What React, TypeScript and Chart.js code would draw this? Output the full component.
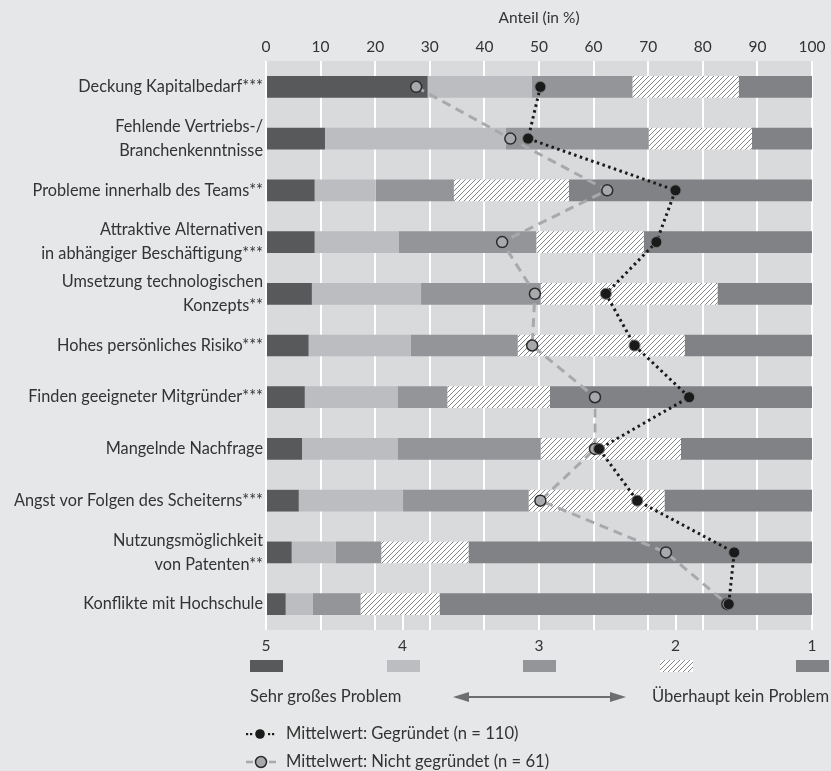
import { useEffect, useRef } from 'react';
import { Chart, registerables } from 'chart.js';

Chart.register(...registerables);

// Obstacles to founding a company (rows, top to bottom)
const categories: (string | string[])[] = [
  'Deckung Kapitalbedarf***',
  ['Fehlende Vertriebs-/', 'Branchenkenntnisse'],
  'Probleme innerhalb des Teams**',
  ['Attraktive Alternativen', 'in abhängiger Beschäftigung***'],
  ['Umsetzung technologischen', 'Konzepts**'],
  'Hohes persönliches Risiko***',
  'Finden geeigneter Mitgründer***',
  'Mangelnde Nachfrage',
  'Angst vor Folgen des Scheiterns***',
  ['Nutzungsmöglichkeit', 'von Patenten**'],
  'Konflikte mit Hochschule',
];

// Share of answers per rating (in %), 5 = very big problem ... 1 = no problem at all
const rating5 = [29.6, 10.8, 8.9, 8.9, 8.4, 7.8, 7.1, 6.6, 6.0, 4.7, 3.6];
const rating4 = [19.1, 33.1, 11.2, 15.4, 20.0, 18.7, 17.0, 17.5, 19.1, 8.1, 5.0];
const rating3 = [18.4, 26.2, 14.3, 25.2, 21.9, 19.6, 9.1, 26.2, 23.0, 8.3, 8.7];
const rating2 = [19.5, 18.9, 21.1, 19.7, 32.4, 30.6, 18.8, 25.7, 24.9, 16.0, 14.5];
const rating1 = [13.4, 11.0, 44.5, 30.8, 17.3, 23.3, 48.0, 24.0, 27.0, 62.9, 68.2];

// Mean ratings on the 5..1 scale
const meanFounded = [2.99, 3.08, 2.0, 2.14, 2.51, 2.3, 1.9, 2.56, 2.28, 1.57, 1.61];
const meanNotFounded = [3.9, 3.21, 2.5, 3.27, 3.03, 3.05, 2.59, 2.59, 2.99, 2.07, 1.62];

const percentTicksTitle = 'Anteil (in %)';
const ratingTicks = [5, 4, 3, 2, 1];
const leftCaption = 'Sehr großes Problem';
const rightCaption = 'Überhaupt kein Problem';
const legendFounded = 'Mittelwert: Gegründet (n = 110)';
const legendNotFounded = 'Mittelwert: Nicht gegründet (n = 61)';

const FONT = 'Lato, "Open Sans", sans-serif';
const TEXT = '#333333';
const C5 = '#58595b';
const C4 = '#bcbdc0';
const C3 = '#939598';
const C1 = '#808285';
const PAGE_BG = '#e6e7e8';
const PLOT_BG = '#d9dadb';

function makeHatch(): CanvasPattern | string {
  const s = 5;
  const c = document.createElement('canvas');
  c.width = s;
  c.height = s;
  const g = c.getContext('2d');
  if (!g) return '#ffffff';
  g.fillStyle = '#ffffff';
  g.fillRect(0, 0, s, s);
  g.strokeStyle = '#858688';
  g.lineWidth = 1;
  g.beginPath();
  g.moveTo(-1, s + 1);
  g.lineTo(s + 1, -1);
  g.moveTo(-1, 1);
  g.lineTo(1, -1);
  g.moveTo(s - 1, s + 1);
  g.lineTo(s + 1, s - 1);
  g.stroke();
  return g.createPattern(c, 'repeat') || '#ffffff';
}

export default function App() {
  const canvasRef = useRef<HTMLCanvasElement | null>(null);

  useEffect(() => {
    document.body.style.margin = '0';
    const canvas = canvasRef.current;
    if (!canvas) return;
    const hatch = makeHatch();
    const swatchFills = [C5, C4, C3, hatch, C1];

    const backgroundPlugin = {
      id: 'panelBackground',
      beforeDraw(chart: any) {
        const { ctx, chartArea } = chart;
        ctx.save();
        ctx.fillStyle = PAGE_BG;
        ctx.fillRect(0, 0, chart.width, chart.height);
        ctx.fillStyle = PLOT_BG;
        ctx.fillRect(chartArea.left, chartArea.top, chartArea.right - chartArea.left, chartArea.bottom - chartArea.top);
        ctx.restore();
      },
      beforeDatasetsDraw(chart: any) {
        // rating-scale guides in the strip below the last row
        const { ctx, chartArea } = chart;
        const xm = chart.scales.xm;
        const meta = chart.getDatasetMeta(0);
        const last = meta.data[meta.data.length - 1];
        if (!last) return;
        const top = last.y + last.height / 2;
        ctx.save();
        ctx.strokeStyle = '#ffffff';
        ctx.lineWidth = 2;
        [4, 2].forEach((v) => {
          const x = Math.round(xm.getPixelForValue(v));
          ctx.beginPath();
          ctx.moveTo(x, top);
          ctx.lineTo(x, chartArea.bottom);
          ctx.stroke();
        });
        ctx.restore();
      },
    };

    const legendPlugin = {
      id: 'ratingLegend',
      afterDraw(chart: any) {
        const { ctx, chartArea } = chart;
        const xm = chart.scales.xm;
        const b = chartArea.bottom;
        ctx.save();
        // rating swatches
        ratingTicks.forEach((v, i) => {
          const cx = xm.getPixelForValue(v);
          ctx.fillStyle = swatchFills[i];
          ctx.fillRect(Math.round(cx - 16), Math.round(b + 30), 33, 12);
        });
        // captions
        ctx.fillStyle = TEXT;
        ctx.font = `16.6px ${FONT}`;
        ctx.textBaseline = 'middle';
        ctx.textAlign = 'left';
        const capY = b + 67;
        ctx.fillText(leftCaption, 250, capY);
        ctx.fillText(rightCaption, 652, capY);
        // double arrow
        const ax1 = 453;
        const ax2 = 626;
        ctx.strokeStyle = '#6d6e70';
        ctx.fillStyle = '#6d6e70';
        ctx.lineWidth = 2;
        ctx.beginPath();
        ctx.moveTo(ax1 + 10, capY);
        ctx.lineTo(ax2 - 10, capY);
        ctx.stroke();
        ctx.beginPath();
        ctx.moveTo(ax1, capY);
        ctx.lineTo(ax1 + 16, capY - 5);
        ctx.lineTo(ax1 + 16, capY + 5);
        ctx.closePath();
        ctx.fill();
        ctx.beginPath();
        ctx.moveTo(ax2, capY);
        ctx.lineTo(ax2 - 16, capY - 5);
        ctx.lineTo(ax2 - 16, capY + 5);
        ctx.closePath();
        ctx.fill();

        // line legend
        const y1 = b + 104;
        const y2 = b + 132;
        ctx.fillStyle = '#1a1a1a';
        [247, 251, 269, 273].forEach((x) => ctx.fillRect(x - 1, y1 - 1, 2.2, 2.2));
        ctx.beginPath();
        ctx.arc(260, y1, 4.8, 0, Math.PI * 2);
        ctx.fill();

        ctx.strokeStyle = '#a7a9ac';
        ctx.lineWidth = 2.5;
        ctx.beginPath();
        ctx.moveTo(246, y2);
        ctx.lineTo(253, y2);
        ctx.moveTo(269, y2);
        ctx.lineTo(276, y2);
        ctx.stroke();
        ctx.beginPath();
        ctx.arc(261, y2, 5.5, 0, Math.PI * 2);
        ctx.fillStyle = '#a7a9ac';
        ctx.fill();
        ctx.strokeStyle = '#2b2b2b';
        ctx.lineWidth = 1.5;
        ctx.stroke();

        ctx.fillStyle = TEXT;
        ctx.font = `16.6px ${FONT}`;
        ctx.fillText(legendFounded, 286, y1);
        ctx.fillText(legendNotFounded, 286, y2);
        ctx.restore();
      },
    };

    const barBase = { xAxisID: 'x', yAxisID: 'y', order: 3, borderWidth: 0, barPercentage: 0.42, categoryPercentage: 1 };

    const chart = new Chart(canvas, {
      type: 'bar',
      data: {
        labels: categories as any,
        datasets: [
          { ...barBase, label: '5', data: rating5, backgroundColor: C5 },
          { ...barBase, label: '4', data: rating4, backgroundColor: C4 },
          { ...barBase, label: '3', data: rating3, backgroundColor: C3 },
          { ...barBase, label: '2', data: rating2, backgroundColor: hatch as any },
          { ...barBase, label: '1', data: rating1, backgroundColor: C1 },
          {
            type: 'line',
            label: legendNotFounded,
            data: meanNotFounded,
            xAxisID: 'xm',
            yAxisID: 'y',
            order: 2,
            borderColor: '#a7a9ac',
            borderWidth: 3,
            borderDash: [9, 6],
            tension: 0,
            pointRadius: 5.5,
            pointBackgroundColor: '#a7a9ac',
            pointBorderColor: '#2b2b2b',
            pointBorderWidth: 1.5,
          } as any,
          {
            type: 'line',
            label: legendFounded,
            data: meanFounded,
            xAxisID: 'xm',
            yAxisID: 'y',
            order: 1,
            borderColor: '#1a1a1a',
            borderWidth: 3,
            borderDash: [2.5, 3.5],
            tension: 0,
            pointRadius: 5.5,
            pointBackgroundColor: '#1a1a1a',
            pointBorderColor: '#7a7a7a',
            pointBorderWidth: 1,
          } as any,
        ],
      },
      options: {
        animation: false,
        responsive: false,
        indexAxis: 'y',
        layout: { padding: { left: 0, right: 19, top: 0, bottom: 117 } },
        plugins: { legend: { display: false }, tooltip: { enabled: false } },
        scales: {
          x: {
            type: 'linear',
            position: 'top',
            min: 0,
            max: 100,
            stacked: true,
            ticks: { stepSize: 10, padding: 5, color: TEXT, font: { family: FONT, size: 15.5 } },
            grid: { color: '#ffffff', lineWidth: 2, drawTicks: false },
            border: { display: false },
            title: {
              display: true,
              text: percentTicksTitle,
              color: TEXT,
              font: { family: FONT, size: 15.5 },
              padding: { top: 9, bottom: 0 },
            },
            afterFit(s: any) {
              s.height = 61;
            },
          },
          xm: {
            type: 'linear',
            position: 'bottom',
            min: 1,
            max: 5,
            reverse: true,
            ticks: { stepSize: 1, padding: 7, color: TEXT, font: { family: FONT, size: 15.5 } },
            grid: { display: false, drawTicks: false },
            border: { display: false },
            afterFit(s: any) {
              s.height = 24;
            },
          },
          y: {
            type: 'category',
            stacked: true,
            grid: { display: false, drawTicks: false },
            border: { display: false },
            ticks: { padding: 3, color: TEXT, font: { family: FONT, size: 16.3, lineHeight: 1.47 } },
            afterFit(s: any) {
              s.width = 266;
            },
          },
        },
      } as any,
      plugins: [backgroundPlugin, legendPlugin],
    });

    return () => chart.destroy();
  }, []);

  return (
    <div style={{ width: 831, height: 771, background: PAGE_BG }}>
      <canvas ref={canvasRef} width={831} height={771} style={{ display: 'block' }} />
    </div>
  );
}
